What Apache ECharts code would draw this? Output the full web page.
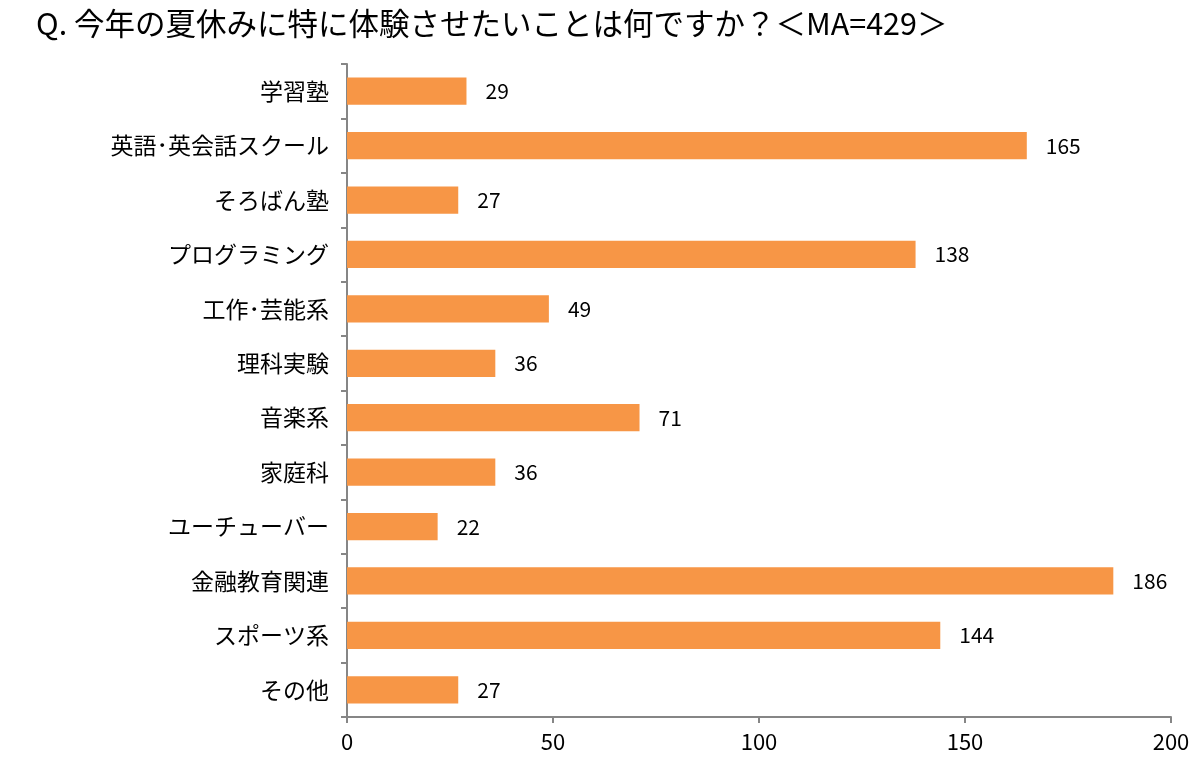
<!DOCTYPE html>
<html><head><meta charset="utf-8">
<script src="https://cdn.jsdelivr.net/npm/echarts@6/dist/echarts.min.js"></script>
<style>html,body{margin:0;padding:0;background:#fff}#c{width:1202px;height:773px}</style>
</head><body><div id="c"></div>
<script>
const titleText = 'Q. 今年の夏休みに特に体験させたいことは何ですか？＜MA=429＞';
const categories = ['学習塾','英語･英会話スクール','そろばん塾','プログラミング','工作･芸能系','理科実験','音楽系','家庭科','ユーチューバー','金融教育関連','スポーツ系','その他'];
const values = [29,165,27,138,49,36,71,36,22,186,144,27];
const xTicks = {min:0,max:200,interval:50};
const font = '"Noto Sans CJK JP","Noto Sans",sans-serif';
const chart = echarts.init(document.getElementById('c'));
chart.setOption({
  animation:false,
  backgroundColor:'#fff',
  title:{text:titleText,left:31,top:3,textStyle:{fontFamily:font,fontSize:30.5,fontWeight:'normal',color:'#000'}},
  grid:{left:347,right:31,top:64,bottom:56,containLabel:false},
  xAxis:{type:'value',min:xTicks.min,max:xTicks.max,interval:xTicks.interval,
    axisLine:{show:true,lineStyle:{color:'#868686',width:2}},
    axisTick:{show:true,length:6,lineStyle:{color:'#868686',width:2}},
    splitLine:{show:false},
    axisLabel:{margin:14,fontFamily:font,fontSize:22,color:'#000'}},
  yAxis:{type:'category',data:categories,inverse:true,
    axisLine:{show:true,lineStyle:{color:'#868686',width:2}},
    axisTick:{show:true,length:6,lineStyle:{color:'#868686',width:2}},
    axisLabel:{margin:18,fontFamily:font,fontSize:23,color:'#000'}},
  series:[{type:'bar',data:values,barWidth:'50%',
    itemStyle:{color:'#F79646'},
    label:{show:true,position:'right',distance:19,fontFamily:font,fontSize:21,color:'#000'}}]
});
</script></body></html>
